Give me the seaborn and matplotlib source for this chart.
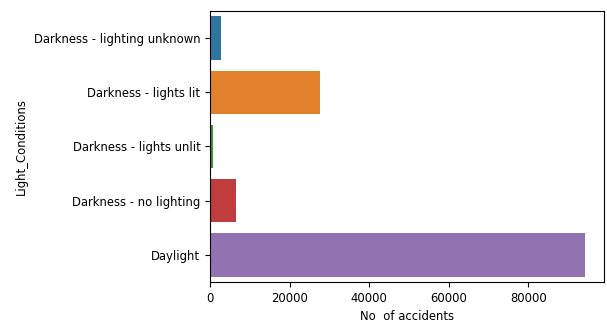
import matplotlib
matplotlib.use("Agg")
import matplotlib.pyplot as plt
import seaborn as sns
import pandas as pd

light_conditions = ["Darkness - lighting unknown", "Darkness - lights lit",
                    "Darkness - lights unlit", "Darkness - no lighting", "Daylight"]
accidents = [2750, 27650, 650, 6600, 94250]

df = pd.DataFrame({"Light_Conditions": light_conditions, "accidents": accidents})

fig = plt.figure(figsize=(6.07, 3.23), dpi=100)
ax = fig.add_axes([0.346, 0.127, 0.649, 0.839])
sns.barplot(data=df, y="Light_Conditions", x="accidents", hue="Light_Conditions",
            palette="tab10", saturation=0.75, legend=False, ax=ax)
ax.set_xlabel("No  of accidents", fontsize=8.4)
ax.set_ylabel("Light_Conditions", fontsize=8.4)
ax.tick_params(labelsize=8.4)
fig.savefig("out.png", dpi=100)
